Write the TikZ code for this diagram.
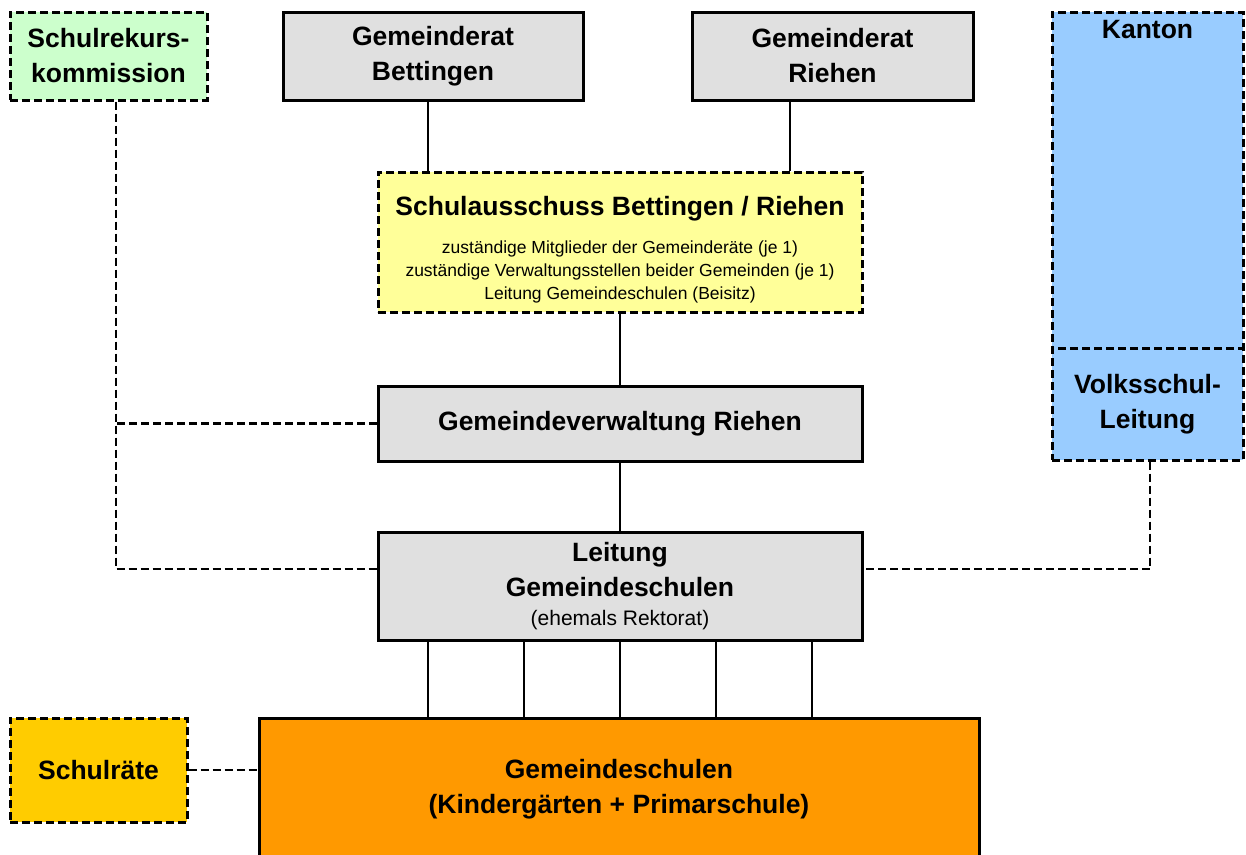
\documentclass[tikz,border=0pt]{standalone}
\usepackage{fontspec}
\setsansfont{Liberation Sans}
\usetikzlibrary{positioning, calc}
\definecolor{rekursgreen}{RGB}{204, 255, 204}
\definecolor{boxgray}{RGB}{224, 224, 224}
\definecolor{ausschussyellow}{RGB}{255, 255, 153}
\definecolor{kantonblue}{RGB}{153, 204, 255}
\definecolor{schulorange}{RGB}{255, 153, 0}
\definecolor{raetegold}{RGB}{255, 204, 0}

\begin{document}
\begin{tikzpicture}[x=1pt, y=-1pt, font=\sffamily,
    fett/.style={font=\sffamily\fontsize{26.5}{35}\selectfont\bfseries, align=center},
    solidbox/.style={draw=black, line width=3pt, inner sep=0pt, fett},
    dashbox/.style={draw=black, line width=3pt, dash pattern=on 8pt off 4pt, inner sep=0pt, fett},
    linie/.style={draw=black, line width=2.5pt},
    strich/.style={draw=black, line width=2.5pt, dash pattern=on 8pt off 4pt}]
                \useasboundingbox (0,0) rectangle (1246,854);

                % Top row
                \node[dashbox, fill=rekursgreen, minimum width=197pt, minimum height=88pt] (rekurs) at (108.5,56) {Schulrekurs-\\kommission};
                \node[solidbox, fill=boxgray, minimum width=300pt, minimum height=88pt] (grbett) at (433,56) {Gemeinderat\\Bettingen};
                \node[solidbox, fill=boxgray, minimum width=281pt, minimum height=88pt] (grriehen) at (832.5,56) {Gemeinderat\\Riehen};

                % Kanton column
                \node[dashbox, fill=kantonblue, minimum width=191pt, minimum height=448pt,
                      label={[fett, anchor=north, yshift=-6pt]north:Kanton}] (kanton) at (1147.5,236) {};
                \node[dashbox, fill=kantonblue, minimum width=191pt, minimum height=112pt] (volks) at (1147.5,404) {Volksschul-\\Leitung};

                % Middle column
                \node[dashbox, fill=ausschussyellow, minimum width=484pt, minimum height=140pt] (ausschuss) at (620,242)
                    {\rule{0pt}{35pt}Schulausschuss Bettingen / Riehen\\[3pt]
                     {\fontsize{17.5}{22.5}\selectfont\mdseries zuständige Mitglieder der Gemeinderäte (je 1)}\\[-12pt]
                     {\fontsize{17.5}{22.5}\selectfont\mdseries zuständige Verwaltungsstellen beider Gemeinden (je 1)}\\[-12pt]
                     {\fontsize{17.5}{22.5}\selectfont\mdseries Leitung Gemeindeschulen (Beisitz)}};
                \node[solidbox, fill=boxgray, minimum width=484pt, minimum height=75pt] (verwaltung) at (620,423.5) {Gemeindeverwaltung Riehen};
                \node[solidbox, fill=boxgray, minimum width=484pt, minimum height=108pt] (leitung) at (620,586)
                    {Leitung\\Gemeindeschulen\\[-6pt]{\fontsize{21}{26}\selectfont\mdseries (ehemals Rektorat)}};

                % Bottom row
                \node[solidbox, fill=schulorange, minimum width=720pt, minimum height=142pt] (schulen) at (619,789)
                    {Gemeindeschulen\\(Kindergärten + Primarschule)};
                \node[dashbox, fill=raetegold, minimum width=177pt, minimum height=104pt] (schulraete) at (98.5,770) {Schulräte};

                % Solid connectors
                \coordinate (xbett) at (428,0);
                \coordinate (xriehen) at (790,0);
                \draw[linie] (grbett.south -| xbett) -- (ausschuss.north -| xbett);
                \draw[linie] (grriehen.south -| xriehen) -- (ausschuss.north -| xriehen);
                \draw[linie] (ausschuss) -- (verwaltung);
                \draw[linie] (verwaltung) -- (leitung);
                \foreach \dx in {-192,-96,0,96,192}
                    \draw[linie] ([xshift=\dx pt]leitung.south) -- ([xshift=\dx pt]leitung.south |- schulen.north);

                % Dashed connectors
                \coordinate (knicklinks) at (116,569);
                \coordinate (knickrechts) at (1150,569);
                \draw[strich] (rekurs.south -| knicklinks) -- (knicklinks) -- (leitung.west |- knicklinks);
                \draw[strich] (verwaltung.west) -- (verwaltung.west -| knicklinks);
                \draw[strich] (volks.south -| knickrechts) -- (knickrechts) -- (leitung.east |- knickrechts);
                \draw[strich] (schulraete.east) -- (schulen.west |- schulraete.east);
            \end{tikzpicture}
\end{document}
